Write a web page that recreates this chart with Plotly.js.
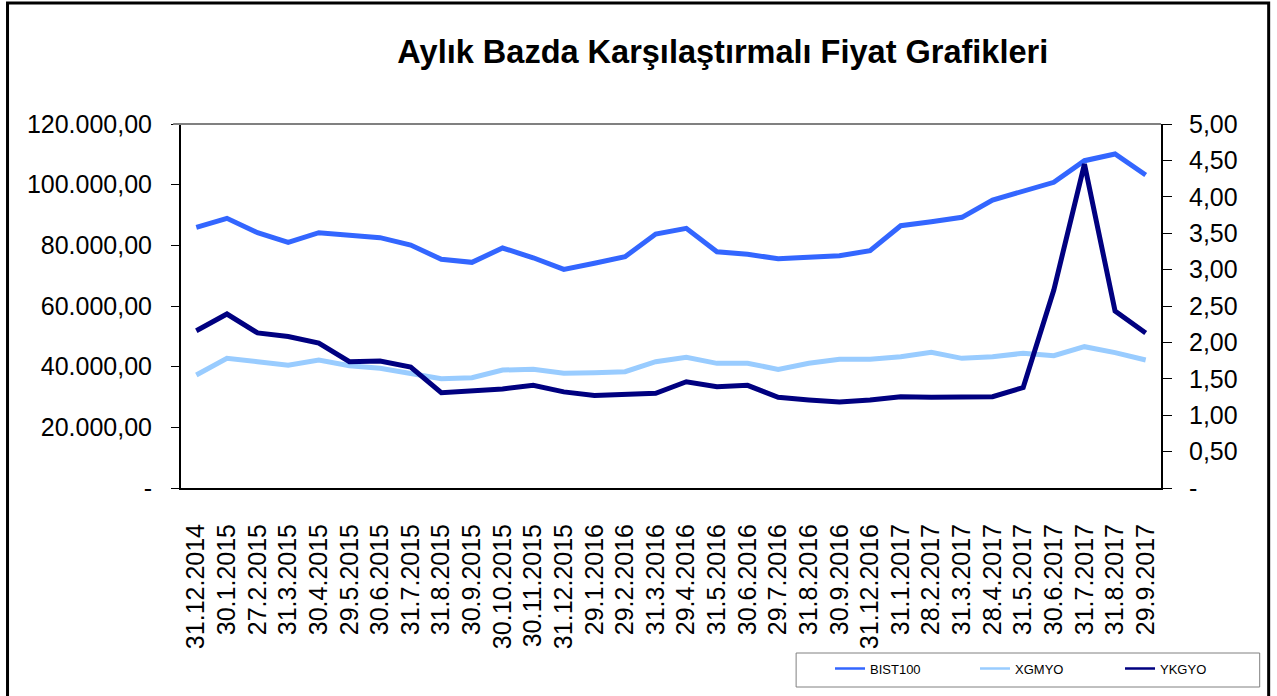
<!DOCTYPE html>
<html>
<head>
<meta charset="utf-8">
<script src="https://cdn.plot.ly/plotly-3.0.1.min.js"></script>
<style>html,body{margin:0;padding:0;background:#fff;}#chart{width:1277px;height:696px;}</style>
</head>
<body>
<div id="chart"></div>
<script>
const categories = ["31.12.2014","30.1.2015","27.2.2015","31.3.2015","30.4.2015","29.5.2015","30.6.2015","31.7.2015","31.8.2015","30.9.2015","30.10.2015","30.11.2015","31.12.2015","29.1.2016","29.2.2016","31.3.2016","29.4.2016","31.5.2016","30.6.2016","29.7.2016","31.8.2016","30.9.2016","31.12.2016","31.1.2017","28.2.2017","31.3.2017","28.4.2017","31.5.2017","30.6.2017","31.7.2017","31.8.2017","29.9.2017"];
const bist100 = [85950,88900,84170,81000,84170,83180,82520,80100,75400,74400,79120,75900,72090,74070,76260,83740,85600,77900,77040,75600,76050,76590,78230,86470,87790,89230,94940,97910,100780,107900,110110,103180];
const xgmyo = [37250,42750,41650,40440,42200,40330,39450,37800,36040,36370,38900,39120,37800,38020,38350,41650,43080,41100,41100,39120,41100,42420,42420,43300,44730,42750,43300,44400,43630,46590,44620,42200];
const ykgyo = [2.16,2.39,2.13,2.08,1.99,1.735,1.745,1.66,1.31,1.33,1.36,1.41,1.32,1.27,1.29,1.30,1.46,1.39,1.41,1.245,1.21,1.18,1.21,1.255,1.245,1.255,1.255,1.38,2.72,4.45,2.43,2.13];
const seriesNames = ["BIST100","XGMYO","YKGYO"];
const leftTickVals = [0,20000,40000,60000,80000,100000,120000];
const leftTickText = ["-","20.000,00","40.000,00","60.000,00","80.000,00","100.000,00","120.000,00"];
const rightTickVals = [0,0.5,1,1.5,2,2.5,3,3.5,4,4.5,5];
const rightTickText = ["-","0,50","1,00","1,50","2,00","2,50","3,00","3,50","4,00","4,50","5,00"];
const titleText = "Aylık Bazda Karşılaştırmalı Fiyat Grafikleri";

const colors = ["#3366FF","#99CCFF","#000080"];
const FONT = 'Arial, "Liberation Sans", sans-serif';

const traces = [
  {x: categories, y: bist100, type:'scatter', mode:'lines', name: seriesNames[0], line:{color:colors[0], width:5}, yaxis:'y', showlegend:false, hoverinfo:'skip'},
  {x: categories, y: xgmyo, type:'scatter', mode:'lines', name: seriesNames[1], line:{color:colors[1], width:5}, yaxis:'y', showlegend:false, hoverinfo:'skip'},
  {x: categories, y: ykgyo, type:'scatter', mode:'lines', name: seriesNames[2], line:{color:colors[2], width:5}, yaxis:'y2', showlegend:false, hoverinfo:'skip'},
  {x:[null], y:[null], type:'scatter', mode:'lines', name: seriesNames[0], line:{color:colors[0], width:2.5}, showlegend:true},
  {x:[null], y:[null], type:'scatter', mode:'lines', name: seriesNames[1], line:{color:colors[1], width:2.5}, showlegend:true},
  {x:[null], y:[null], type:'scatter', mode:'lines', name: seriesNames[2], line:{color:colors[2], width:2.5}, showlegend:true}
];

const layout = {
  width:1277, height:696,
  margin:{l:181, r:113, t:124, b:208, pad:0},
  paper_bgcolor:'#fff', plot_bgcolor:'#fff',
  font:{family:FONT, color:'#000'},
  showlegend:true,
  title:{text:titleText, font:{family:FONT, size:32.5, color:'#000', weight:'bold'}, x:0.566, xanchor:'center', y:0.926, yanchor:'middle', xref:'container', yref:'container'},
  xaxis:{
    type:'category', categoryorder:'array', categoryarray:categories,
    range:[-0.5, categories.length-0.5],
    showgrid:false, zeroline:false, showline:true, linecolor:'#000', linewidth:2,
    ticks:'', tickangle:-90, tickfont:{family:FONT, size:25, color:'#000'},
    ticklabelstandoff:24, automargin:false, fixedrange:true
  },
  xaxis2:{
    overlaying:'x', anchor:'y', range:[0,8], dtick:1, tick0:0, tickmode:'linear',
    showgrid:false, zeroline:false, showline:false, showticklabels:false,
    ticks:'outside', ticklen:6, tickwidth:1, tickcolor:'#000', automargin:false
  },
  yaxis:{
    range:[0,120000], tickmode:'array', tickvals:leftTickVals, ticktext:leftTickText,
    showgrid:false, zeroline:false, showline:true, linecolor:'#000', linewidth:2,
    ticks:'outside', ticklen:8, tickwidth:1, tickcolor:'#000',
    tickfont:{family:FONT, size:25, color:'#000'}, ticklabelstandoff:14, automargin:false, fixedrange:true
  },
  yaxis2:{
    overlaying:'y', side:'right', anchor:'x', range:[0,5], tickmode:'array', tickvals:rightTickVals, ticktext:rightTickText,
    showgrid:false, zeroline:false, showline:true, linecolor:'#000', linewidth:2,
    ticks:'outside', ticklen:9, tickwidth:1, tickcolor:'#000',
    tickfont:{family:FONT, size:25, color:'#000'}, ticklabelstandoff:12, automargin:false, fixedrange:true
  },
  yaxis3:{
    overlaying:'y', side:'right', anchor:'x', range:[0,5], tickmode:'array', tickvals:rightTickVals,
    showgrid:false, zeroline:false, showline:false, showticklabels:false,
    ticks:'inside', ticklen:9, tickwidth:1, tickcolor:'#000', automargin:false
  },
  legend:{
    orientation:'h', x:(832-181)/983, xanchor:'left', y:-0.455, yanchor:'top',
    bgcolor:'rgba(0,0,0,0)', borderwidth:0,
    font:{family:FONT, size:13, color:'#000'},
    entrywidth:100, entrywidthmode:'pixels', itemclick:false, itemdoubleclick:false
  },
  shapes:[
    {type:'line', xref:'paper', yref:'paper', x0:-0.008, x1:1, y0:1, y1:1, line:{color:'#808080', width:2}},
    {type:'rect', xref:'paper', yref:'paper', x0:(798-181)/983, x1:(1263-181)/983, y0:(488-687)/364, y1:(488-653)/364, line:{color:'#808080', width:1}, fillcolor:'rgba(0,0,0,0)'},
    {type:'rect', xref:'paper', yref:'paper', x0:(7-181)/983, x1:(1272-181)/983, y0:(488-700)/364, y1:(488-3)/364, line:{color:'#000', width:3}, fillcolor:'rgba(0,0,0,0)', layer:'above'}
  ]
};

Plotly.newPlot('chart', traces, layout, {staticPlot:true, displayModeBar:false});
</script>
</body>
</html>
